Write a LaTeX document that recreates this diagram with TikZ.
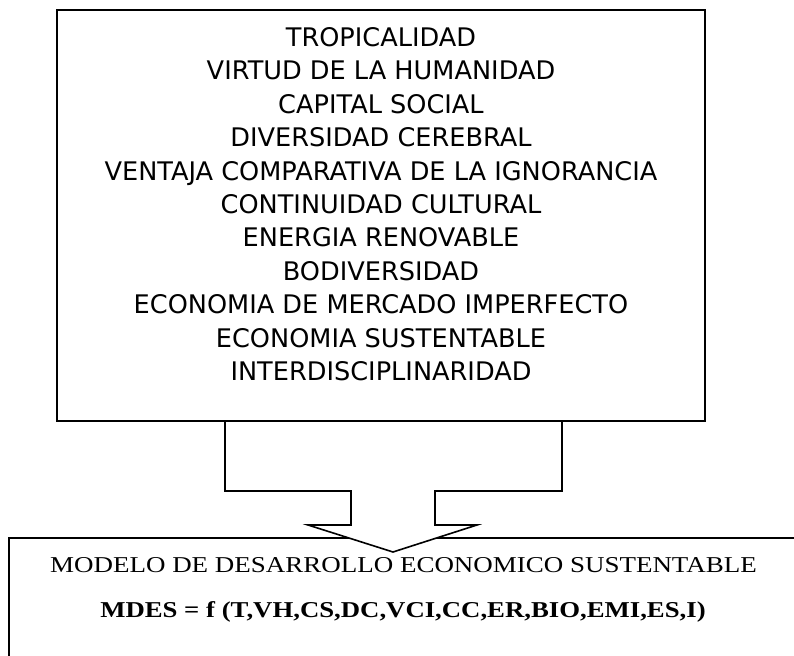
\documentclass[tikz,border=0pt]{standalone}
\usepackage{fontspec}
\setmainfont{Liberation Serif}
\newfontfamily\comicfont{DejaVu Sans}
\newfontfamily\garafont[FakeStretch=1.19]{Liberation Serif}
\newfontfamily\formfont[FakeStretch=1.18]{Liberation Serif}
\usetikzlibrary{positioning}

\begin{document}
\begin{tikzpicture}[x=0.75pt,y=-0.75pt,line width=1.2pt,
                caja/.style={draw,rectangle,inner sep=0pt},
                factor/.style={font=\comicfont\fontsize{19.2}{22}\selectfont,inner sep=0pt,anchor=base},
                titulo/.style={font=\garafont\fontsize{17}{20}\selectfont,inner sep=0pt,anchor=base},
                formula/.style={font=\formfont\bfseries\fontsize{17}{20}\selectfont,inner sep=0pt,anchor=base}]
  \useasboundingbox (0,0) rectangle (794,656);
  \clip (0,0) rectangle (794,656);

  % caja de abajo, sale de la hoja
  \node[caja,anchor=north west,minimum width=615pt,minimum height=120pt] (modelo) at (8,537) {};

  % flecha
  \coordinate (punta) at (393,552);
  \draw[fill=white] (225,421) -- (225,491) -- (351,491) -- (351,525) -- (308,525)
    -- (punta) -- (477,525) -- (435,525) -- (435,491) -- (562,491) -- (562,421);

  \node[caja,minimum width=486pt,minimum height=308.25pt] (factores) at (381,215.5) {};
  \foreach \txt [count=\i] in {TROPICALIDAD,VIRTUD DE LA HUMANIDAD,CAPITAL SOCIAL,
      DIVERSIDAD CEREBRAL,VENTAJA COMPARATIVA DE LA IGNORANCIA,CONTINUIDAD CULTURAL,
      ENERGIA RENOVABLE,BODIVERSIDAD,ECONOMIA DE MERCADO IMPERFECTO,
      ECONOMIA SUSTENTABLE,INTERDISCIPLINARIDAD}
    \node[factor] (f\i) at (381,{46.5+33.4*(\i-1)}) {\txt};

  \node[titulo] (titulo) at (403.5,572) {MODELO DE DESARROLLO ECONOMICO SUSTENTABLE};
  \node[formula] (mdes) at (403,617) {MDES = f (T,VH,CS,DC,VCI,CC,ER,BIO,EMI,ES,I)};
\end{tikzpicture}
\end{document}
